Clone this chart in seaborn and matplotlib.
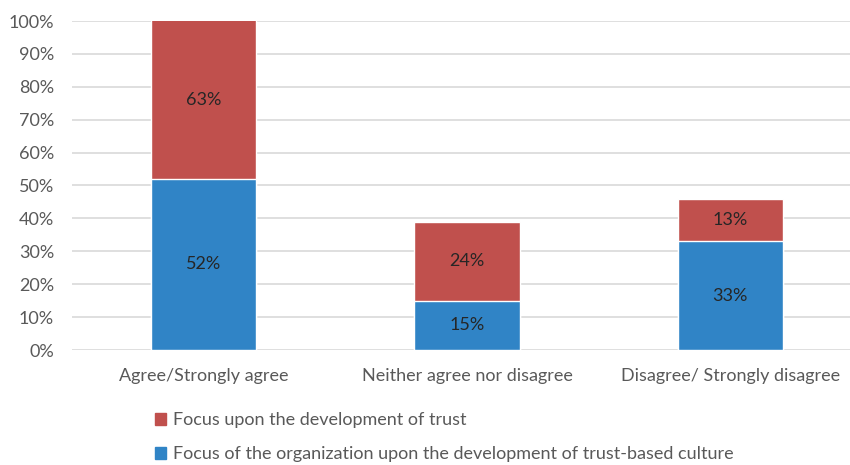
import pandas as pd
import numpy as np
import seaborn as sns
import matplotlib.pyplot as plt

categories = ['Agree/Strongly agree', 'Neither agree nor disagree', 'Disagree/ Strongly disagree']
culture = [0.52, 0.15, 0.33]   # blue, bottom
trust = [0.63, 0.24, 0.13]     # red, stacked on top
legend_labels = ['Focus upon the development of trust',
                 'Focus of the organization upon the development of trust-based culture']

red = '#C0504D'
blue = '#3084C6'

sns.set_style('white')
plt.rcParams['font.family'] = ['Lato', 'DejaVu Sans']

df = pd.DataFrame({'cat': categories, 'culture': culture, 'trust': trust})
df['total'] = df['culture'] + df['trust']

fig = plt.figure(figsize=(8.5, 4.65), dpi=100)
ax = fig.add_axes([72 / 850, 115 / 465, 790 / 850, 329 / 465])

# red bar = whole stack, blue drawn over it
sns.barplot(data=df, x='cat', y='total', color=red, width=0.4, saturation=1, ax=ax, zorder=2)
sns.barplot(data=df, x='cat', y='culture', color=blue, width=0.4, saturation=1, ax=ax, zorder=3)

ax.set_ylim(0, 1)
ax.set_xlim(-0.5, 2.5)
ax.set_yticks(np.arange(0, 1.01, 0.1))
ax.set_yticklabels([f'{int(round(v * 100))}%' for v in np.arange(0, 1.01, 0.1)])
ax.yaxis.grid(True, color='#d9d9d9', linewidth=1.2, zorder=0)
ax.set_axisbelow(True)
for s in ax.spines.values():
    s.set_visible(False)
ax.tick_params(axis='both', length=0, labelsize=13, colors='#595959')
ax.tick_params(axis='x', pad=13)
ax.tick_params(axis='y', pad=13)
ax.set_xlabel('')
ax.set_ylabel('')

# data labels in the middle of each visible segment
for i in range(len(categories)):
    c = culture[i]
    top = min(c + trust[i], 1.0)
    ax.text(i, c / 2, f'{int(round(c * 100))}%', ha='center', va='center',
            fontsize=13, color='#262626', zorder=5)
    ax.text(i, (c + top) / 2, f'{int(round(trust[i] * 100))}%', ha='center', va='center',
            fontsize=13, color='#262626', zorder=5)

handles = [plt.Rectangle((0, 0), 1, 1, color=red), plt.Rectangle((0, 0), 1, 1, color=blue)]
fig.legend(handles, legend_labels, loc='upper left', bbox_to_anchor=(139 / 850, 1 - 396 / 465),
           frameon=False, fontsize=13, labelcolor='#595959', handlelength=0.6, handleheight=0.6,
           handletextpad=0.4, labelspacing=1.0)

fig.savefig('out.png', dpi=100)
